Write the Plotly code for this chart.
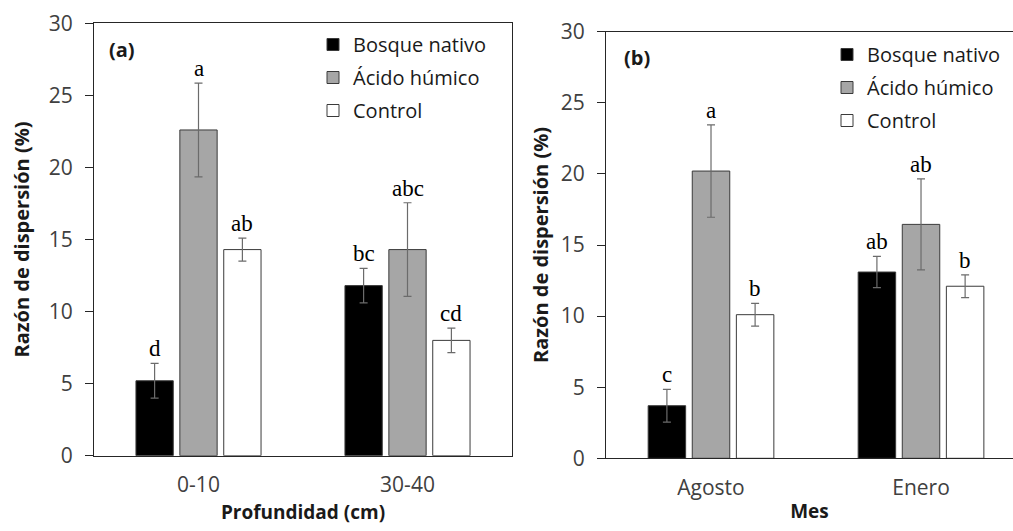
import plotly.graph_objects as go

# ---- data ----
series_names = ["Bosque nativo", "Ácido húmico", "Control"]

cats_a = ["0-10", "30-40"]
bosque_a = [5.2, 11.8]
bosque_a_se = [1.2, 1.2]
acido_a = [22.6, 14.3]
acido_a_se = [3.25, 3.25]
control_a = [14.3, 8.0]
control_a_se = [0.8, 0.85]
letters_a_bosque = ["d", "bc"]
letters_a_acido = ["a", "abc"]
letters_a_control = ["ab", "cd"]

cats_b = ["Agosto", "Enero"]
bosque_b = [3.7, 13.1]
bosque_b_se = [1.15, 1.1]
acido_b = [20.2, 16.45]
acido_b_se = [3.25, 3.2]
control_b = [10.1, 12.1]
control_b_se = [0.8, 0.8]
letters_b_bosque = ["c", "ab"]
letters_b_acido = ["a", "ab"]
letters_b_control = ["b", "b"]

y_ticks = [0, 5, 10, 15, 20, 25, 30]

# ---- style ----
fills = ["#000000", "#a6a6a6", "#ffffff"]
SANS = "Open Sans"
SERIF = "Liberation Serif"
TICKCOL = "#404040"
AXCOL = "#262626"

BARGAP = 0.37
BARGROUPGAP = 0.15
slot = (1 - BARGAP) / 3

fig = go.Figure()

panels = [
    ("x", "y", "legend", cats_a,
     [(bosque_a, bosque_a_se, letters_a_bosque),
      (acido_a, acido_a_se, letters_a_acido),
      (control_a, control_a_se, letters_a_control)]),
    ("x2", "y2", "legend2", cats_b,
     [(bosque_b, bosque_b_se, letters_b_bosque),
      (acido_b, acido_b_se, letters_b_acido),
      (control_b, control_b_se, letters_b_control)]),
]

annotations = []
for xa, ya, lg, cats, series in panels:
    for j, (vals, se, letters) in enumerate(series):
        fig.add_trace(go.Bar(
            x=cats, y=vals, name=series_names[j],
            xaxis=xa, yaxis=ya, legend=lg, legendgroup=f"{lg}{j}",
            marker=dict(color=fills[j], line=dict(color="#3a3a3a", width=1)),
            error_y=dict(type="data", array=se, visible=True,
                         color="#6b6b6b", thickness=1.2, width=4),
            hoverinfo="skip",
        ))
        for i, (v, s, t) in enumerate(zip(vals, se, letters)):
            annotations.append(dict(
                x=i + (j - 1) * slot, y=v + s, xref=xa, yref=ya,
                text=t, showarrow=False, yanchor="bottom", yshift=0,
                font=dict(family=SERIF, size=23, color="#000000"),
            ))

# panel labels
annotations.append(dict(x=0.03, y=0.94, xref="x domain", yref="y domain",
                        text="<b>(a)</b>", showarrow=False, xanchor="left",
                        yanchor="middle", font=dict(family=SANS, size=20, color="#1a1a1a")))
annotations.append(dict(x=0.04, y=0.94, xref="x2 domain", yref="y2 domain",
                        text="<b>(b)</b>", showarrow=False, xanchor="left",
                        yanchor="middle", font=dict(family=SANS, size=20, color="#1a1a1a")))

W, H = 1013, 531
xd1 = [94 / W, 512 / W]
xd2 = [606 / W, 1.0]
yd1 = [1 - 455.7 / H, 1 - 23.3 / H]
yd2 = [1 - 458.3 / H, 1 - 31.7 / H]

common_x = dict(type="category", showline=True, linecolor=AXCOL, linewidth=1.3,
                ticks="", showgrid=False, zeroline=False, automargin=False,
                ticklabelstandoff=10,
                tickfont=dict(family=SANS, size=21, color=TICKCOL),
                title_font=dict(family=SANS, size=19, color="#1a1a1a"))
common_y = dict(range=[0, 30], tickvals=y_ticks, showline=True, linecolor=AXCOL,
                linewidth=1.3, ticks="outside", ticklen=8, tickcolor=AXCOL,
                tickwidth=1.3, showgrid=False, zeroline=False, automargin=False,
                ticklabelstandoff=8,
                tickfont=dict(family=SANS, size=21, color=TICKCOL),
                title_font=dict(family=SANS, size=20, color="#1a1a1a"))

legend_common = dict(font=dict(family=SANS, size=20, color="#1a1a1a"),
                     bgcolor="rgba(0,0,0,0)", borderwidth=0, tracegroupgap=4,
                     traceorder="grouped", itemwidth=30, xanchor="left", yanchor="top")

fig.update_layout(
    width=W, height=H,
    margin=dict(l=0, r=0, t=0, b=0),
    paper_bgcolor="white", plot_bgcolor="white",
    barmode="group", bargap=BARGAP, bargroupgap=BARGROUPGAP,
    showlegend=True,
    xaxis=dict(common_x, domain=xd1, anchor="y", range=[-0.5, 1.5], mirror=True,
               title=dict(text="<b>Profundidad (cm)</b>", standoff=8)),
    yaxis=dict(common_y, domain=yd1, anchor="x", mirror=True,
               title=dict(text="<b>Razón de dispersión (%)</b>", standoff=13)),
    xaxis2=dict(common_x, domain=xd2, anchor="y2", range=[-0.5, 1.438], mirror=True,
                title=dict(text="<b>Mes</b>", standoff=5)),
    yaxis2=dict(common_y, domain=yd2, anchor="x2", mirror=False,
                title=dict(text="<b>Razón de dispersión (%)</b>", standoff=6)),
    legend=dict(legend_common, x=313 / W, y=1 - 25 / H),
    legend2=dict(legend_common, x=827 / W, y=1 - 35 / H),
    annotations=annotations,
)

fig.write_html("out.html")
